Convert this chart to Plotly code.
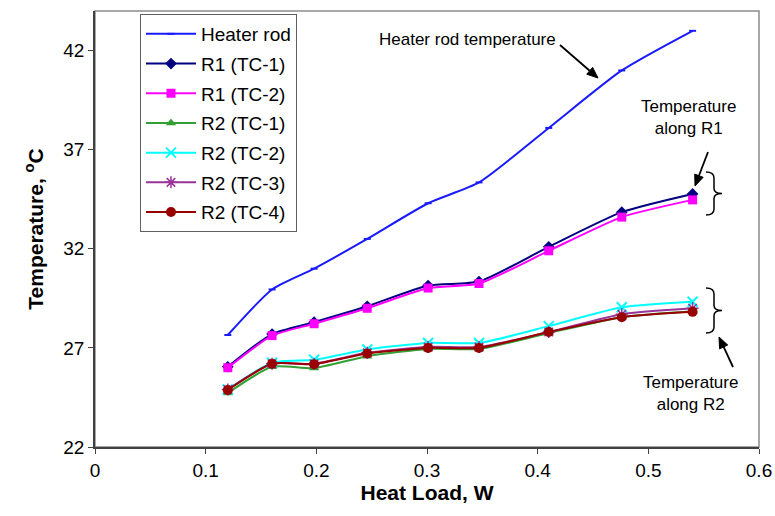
import plotly.graph_objects as go

# ---- data ----
heat_load = [0.12, 0.16, 0.198, 0.246, 0.301, 0.347, 0.41, 0.476, 0.54]
heater_rod = [27.65, 29.95, 31.0, 32.5, 34.3, 35.35, 38.1, 41.0, 43.0]
r1_tc1 = [26.05, 27.7, 28.3, 29.1, 30.15, 30.35, 32.1, 33.85, 34.77]
r1_tc2 = [26.0, 27.62, 28.22, 29.0, 30.02, 30.25, 31.9, 33.6, 34.47]
r2_tc1 = [24.72, 26.05, 25.98, 26.58, 26.95, 26.95, 27.75, 28.55, 28.85]
r2_tc2 = [24.9, 26.25, 26.4, 26.92, 27.25, 27.25, 28.1, 29.05, 29.33]
r2_tc3 = [24.9, 26.2, 26.2, 26.75, 27.05, 27.05, 27.8, 28.7, 29.0]
r2_tc4 = [24.88, 26.2, 26.18, 26.72, 27.0, 27.0, 27.8, 28.55, 28.82]

x_ticks = [0, 0.1, 0.2, 0.3, 0.4, 0.5, 0.6]
y_ticks = [22, 27, 32, 37, 42]

FONT = "Arial, Liberation Sans, sans-serif"

series = [
    ("Heater rod", heater_rod, "#1a1aff", dict(symbol="line-ew-open", size=5, line=dict(width=2, color="#1a1aff"))),
    ("R1 (TC-1)", r1_tc1, "#000080", dict(symbol="diamond", size=9, color="#000080")),
    ("R1 (TC-2)", r1_tc2, "#ff00ff", dict(symbol="square", size=9, color="#ff00ff")),
    ("R2 (TC-1)", r2_tc1, "#33a033", dict(symbol="triangle-up", size=9, color="#33a033")),
    ("R2 (TC-2)", r2_tc2, "#00ffff", dict(symbol="x-thin-open", size=10, line=dict(width=2, color="#00ffff"))),
    ("R2 (TC-3)", r2_tc3, "#993399", dict(symbol="asterisk-open", size=10, line=dict(width=1.5, color="#cc88cc"))),
    ("R2 (TC-4)", r2_tc4, "#990000", dict(symbol="circle", size=10, color="#990000")),
]

fig = go.Figure()
for i, (name, ys, col, mk) in enumerate(series):
    fig.add_trace(go.Scatter(
        x=heat_load, y=ys, name=name, mode="lines+markers",
        line=dict(color=col, width=2, shape="spline", smoothing=0.6),
        marker=mk, legendgroup=f"g{i}",
    ))

# layout geometry (pixels)
W, H = 775, 516
L, R, T, B = 95, 16, 11, 69
XR = [0, 0.6]
YR = [22, 44]
pw, ph = W - L - R, H - T - B


def to_data(px, py):
    return (XR[0] + (px - L) / pw * (XR[1] - XR[0]),
            YR[1] - (py - T) / ph * (YR[1] - YR[0]))


def path_str(pts):
    s = ""
    for cmd, ps in pts:
        s += cmd + " " + " ".join("%.5f,%.5f" % to_data(px, py) for px, py in ps) + " "
    return s.strip()


def brace_path(x0, ytop, ybot, depth):
    ym = (ytop + ybot) / 2
    xs = x0 + depth * 0.5
    xt = x0 + depth
    return path_str([
        ("M", [(x0, ytop)]),
        ("Q", [(xs, ytop), (xs, ytop + 6)]),
        ("L", [(xs, ym - 5)]),
        ("Q", [(xs, ym), (xt, ym)]),
        ("Q", [(xs, ym), (xs, ym + 5)]),
        ("L", [(xs, ybot - 6)]),
        ("Q", [(xs, ybot), (x0, ybot)]),
    ])


shapes = [
    dict(type="rect", xref="paper", yref="paper", x0=0, x1=1, y0=0, y1=1,
         line=dict(color="#8c8c8c", width=1.5), layer="below"),
    dict(type="path", xref="x", yref="y", path=brace_path(706, 172, 215, 16),
         line=dict(color="black", width=1.5)),
    dict(type="path", xref="x", yref="y", path=brace_path(706, 288, 333, 16),
         line=dict(color="black", width=1.5)),
]


def arrow(head, tail, hl=11, hw=4.5):
    hx, hy = head
    tx, ty = tail
    dx, dy = hx - tx, hy - ty
    n = (dx * dx + dy * dy) ** 0.5
    ux, uy = dx / n, dy / n
    bx, by = hx - ux * hl, hy - uy * hl
    px_, py_ = -uy, ux
    shapes.append(dict(type="path", xref="x", yref="y",
                       path=path_str([("M", [(tx, ty)]), ("L", [(bx, by)])]),
                       line=dict(color="black", width=1.8)))
    shapes.append(dict(type="path", xref="x", yref="y",
                       path=path_str([("M", [(hx, hy)]),
                                      ("L", [(bx + px_ * hw, by + py_ * hw)]),
                                      ("L", [(bx - px_ * hw, by - py_ * hw)])]) + " Z",
                       line=dict(color="black", width=1), fillcolor="black"))


annotations = []


def label(px, py, txt):
    x, y = to_data(px, py)
    annotations.append(dict(x=x, y=y, xref="x", yref="y", text=txt, showarrow=False,
                            font=dict(family=FONT, size=17, color="black"), align="center"))


arrow((598, 78), (560, 45))
arrow((695, 186), (708, 152))
arrow((719, 337), (733, 367))
label(467, 39, "Heater rod temperature")
label(688, 117, "Temperature<br>along R1")
label(690, 393, "Temperature<br>along R2")

fig.update_layout(
    width=W, height=H,
    margin=dict(l=L, r=R, t=T, b=B),
    paper_bgcolor="white", plot_bgcolor="white",
    font=dict(family=FONT, size=19, color="black"),
    showlegend=True,
    legend=dict(x=(140 - L) / pw, y=1 - (14 - T) / ph, xanchor="left", yanchor="top",
                bordercolor="#606060", borderwidth=1, bgcolor="white",
                font=dict(family=FONT, size=19), tracegroupgap=2, traceorder="grouped",
                itemwidth=50, entrywidth=105),
    xaxis=dict(range=XR, tickvals=x_ticks, ticktext=[str(v) for v in x_ticks],
               showgrid=False, zeroline=False, showline=True, linecolor="#404040", linewidth=1.5,
               ticks="outside", ticklen=5, tickcolor="#404040", automargin=False,
               title=dict(text="<b>Heat Load, W</b>", font=dict(size=21), standoff=6)),
    yaxis=dict(range=YR, tickvals=y_ticks, ticktext=[str(v) for v in y_ticks],
               showgrid=False, zeroline=False, showline=True, linecolor="#404040", linewidth=1.5,
               ticks="outside", ticklen=5, tickcolor="#404040", automargin=False,
               title=dict(text="<b>Temperature, <sup>o</sup>C</b>", font=dict(size=21), standoff=14)),
    shapes=shapes,
    annotations=annotations,
)

fig.write_html("out.html", config={"displayModeBar": False},
               post_script="document.body.style.margin='0';")
